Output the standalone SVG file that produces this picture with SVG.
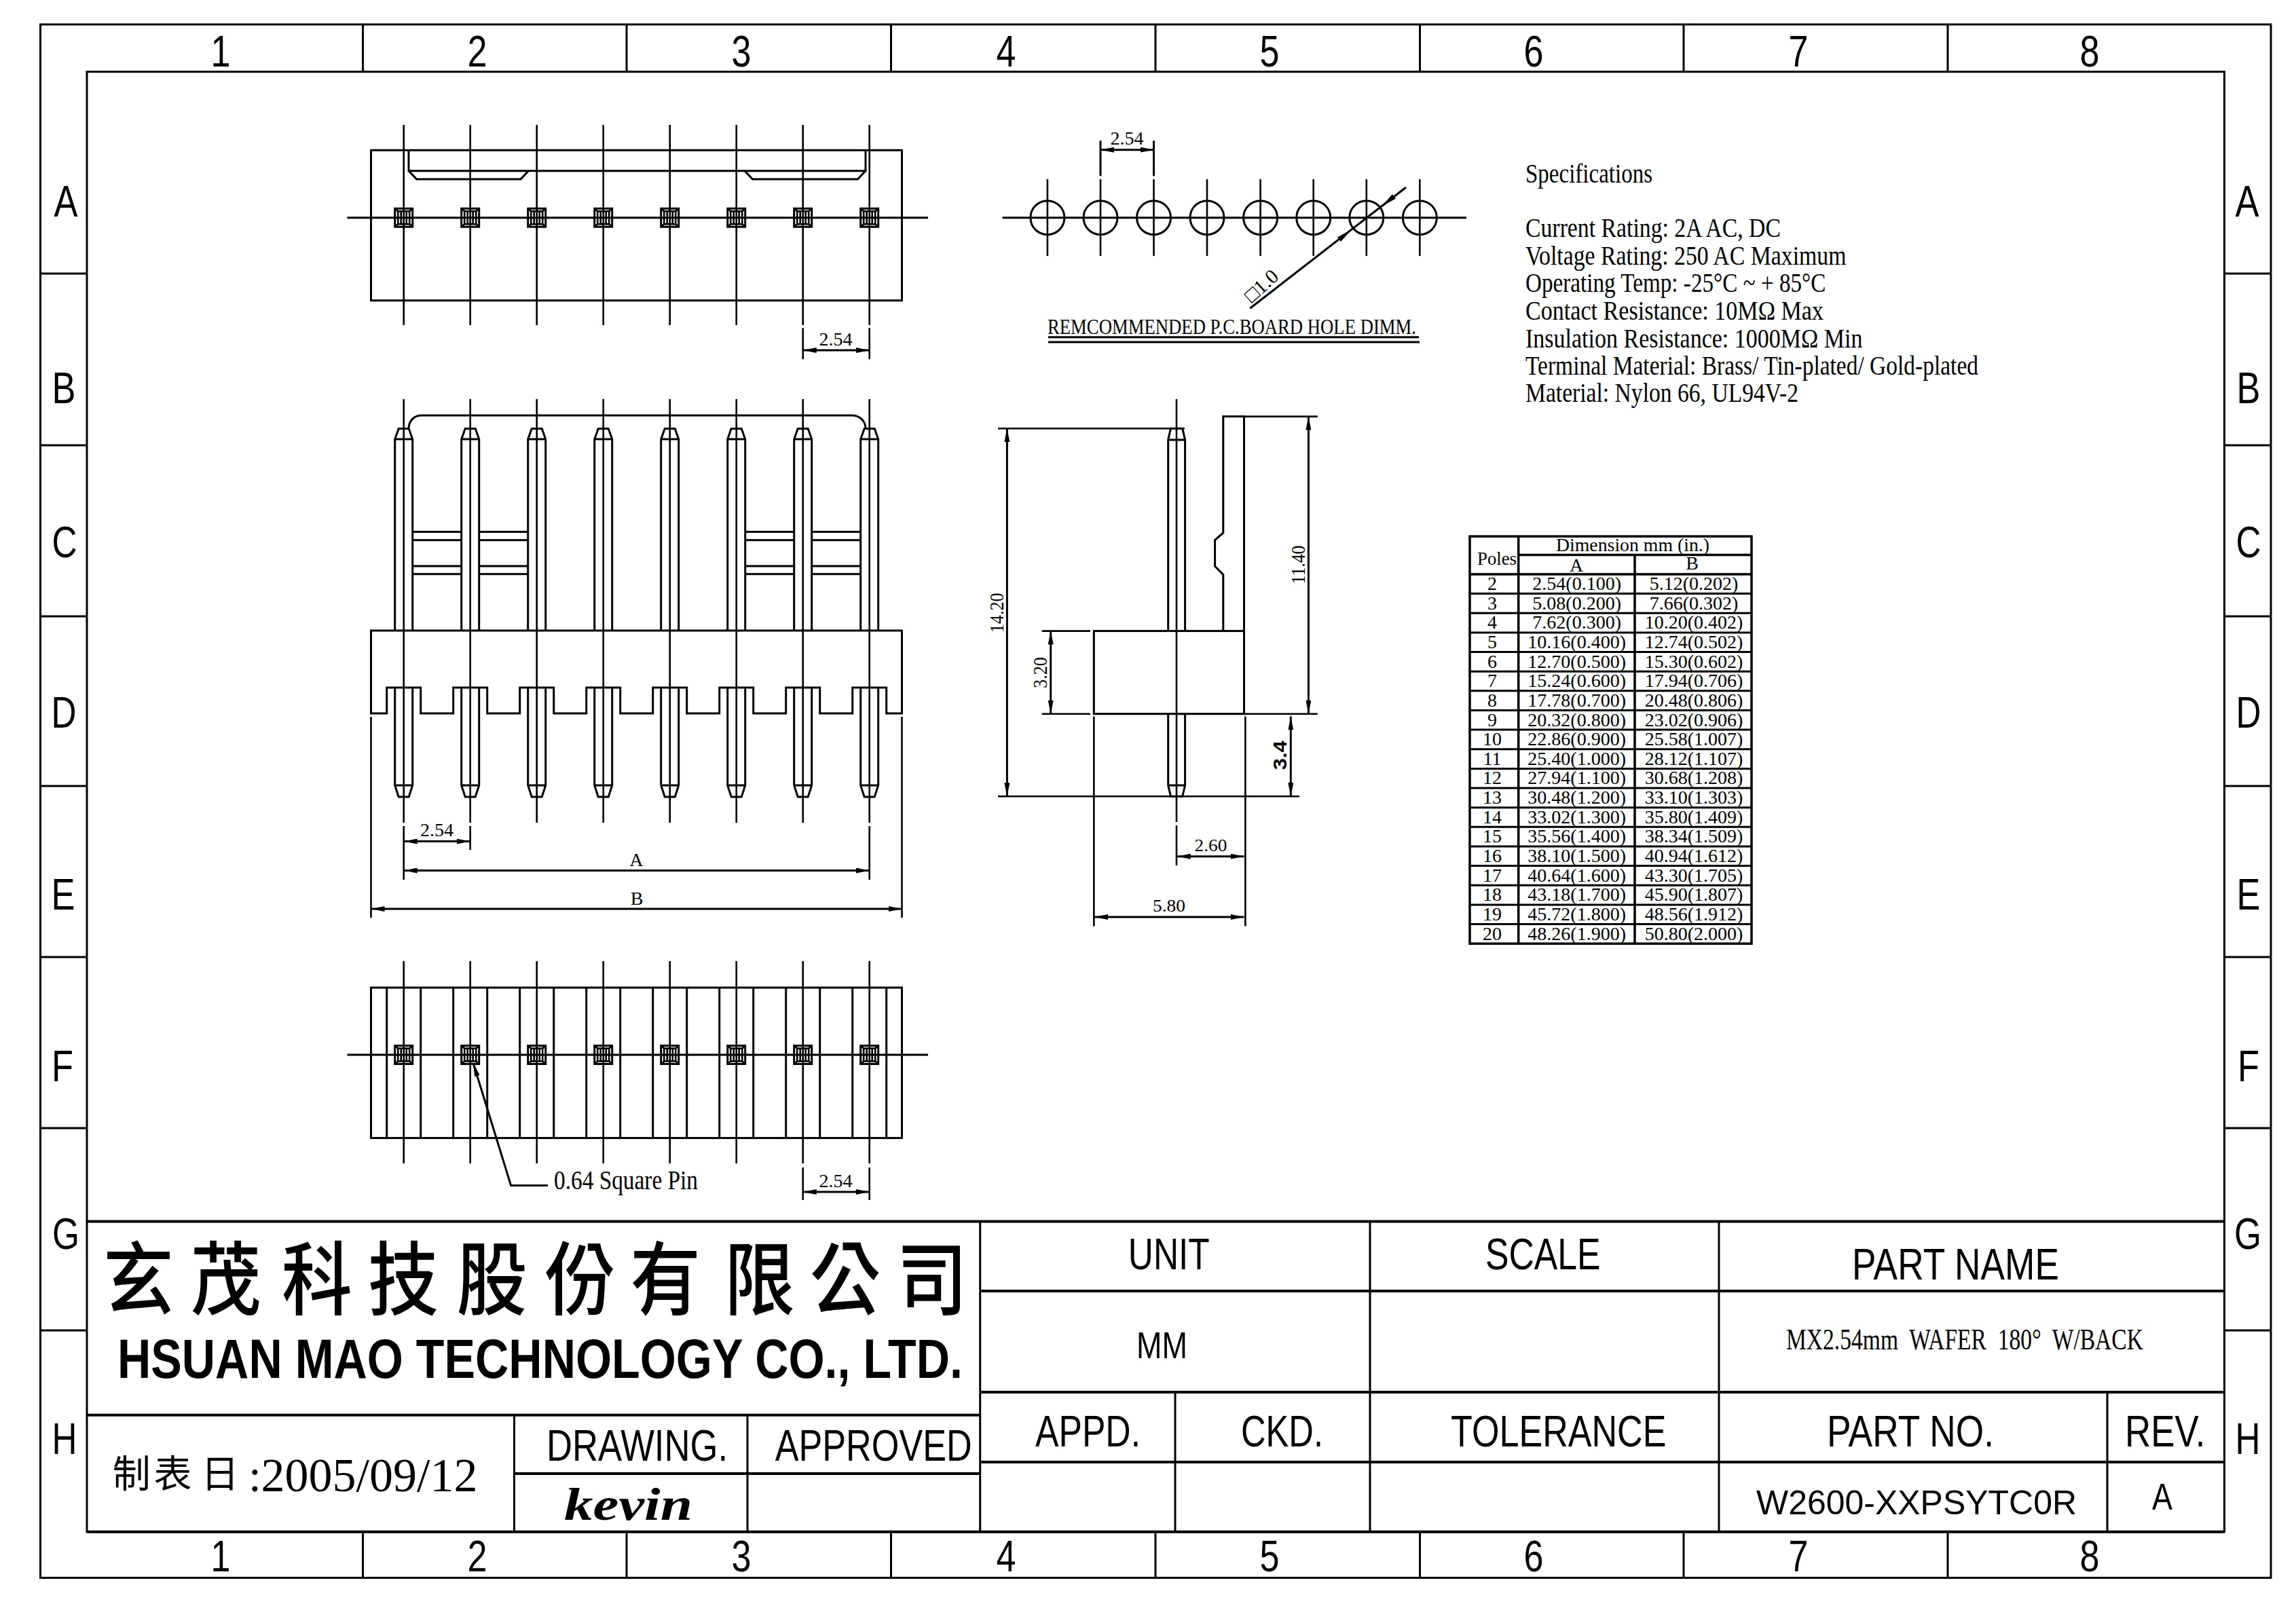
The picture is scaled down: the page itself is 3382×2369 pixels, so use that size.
<svg xmlns="http://www.w3.org/2000/svg" width="3382" height="2369" viewBox="0 0 3382 2369">
<style>
.l{fill:none;stroke:#000;stroke-width:3}
.c{fill:none;stroke:#000;stroke-width:2.6}
.h{fill:none;stroke:#000;stroke-width:4}
.tl{fill:none;stroke:#000;stroke-width:3.5}
.d{fill:none;stroke:#000;stroke-width:3;marker-start:url(#ah);marker-end:url(#ah)}
.s{font-family:"Liberation Serif","Noto Sans CJK TC",serif;fill:#000}
.a{font-family:"Liberation Sans",sans-serif;fill:#000}
.k{font-family:"Noto Sans CJK TC","Liberation Sans",sans-serif;fill:#000}
.m{text-anchor:middle}
.r{font-size:65px}
.t{font-size:65px}
.dim{font-size:28px}
.sp{font-size:39px}
.tb{font-size:28px;text-anchor:middle}
</style>
<defs>
<marker id="ah" viewBox="0 0 20 8" refX="20" refY="4" markerWidth="20" markerHeight="8" markerUnits="userSpaceOnUse" orient="auto-start-reverse"><path d="M0,0L20,4L0,8Z" fill="#000"/></marker>
<g id="sq"><rect class="l" x="-13" y="-13.500" width="26" height="27"/><rect class="c" x="-8.500" y="-9.500" width="17" height="19"/><path class="c" d="M-13,-13.500L-8.500,-9.500M13,-13.500L8.500,-9.500M-13,13.500L-8.500,9.500M13,13.500L8.500,9.500M-4,-9.500V9.500M4,-9.500V9.500"/></g>
<g id="pin"><path class="l" d="M-13,929V647L-7.500,631.400H7.500L13,647V929M-13,647H13M-13,1013V1157L-7.500,1174H7.500L13,1157V1013M-13,1157H13"/><path class="c" d="M0,588V1212"/></g>
<g id="hole"><circle class="l" r="25"/><path class="c" d="M0,-56.700V56.300"/></g>
</defs>
<rect width="3382" height="2369" fill="#fff"/>

<g id="frame">
<rect class="l" x="59.500" y="36" width="3285.500" height="2288.500"/>
<rect class="l" x="128" y="105.700" width="3148.500" height="2151"/>
<path class="l" d="M534.500,36V105.700M923,36V105.700M1312.500,36V105.700M1702,36V105.700M2091.500,36V105.700M2480,36V105.700M2869,36V105.700"/>
<path class="l" d="M534.500,2256.700V2324.500M923,2256.700V2324.500M1312.500,2256.700V2324.500M1702,2256.700V2324.500M2091.500,2256.700V2324.500M2480,2256.700V2324.500M2869,2256.700V2324.500"/>
<path class="l" d="M59.500,403H128M59.500,656H128M59.500,908H128M59.500,1158H128M59.500,1410H128M59.500,1662H128M59.500,1960H128"/>
<path class="l" d="M3276.500,403H3345M3276.500,656H3345M3276.500,908H3345M3276.500,1158H3345M3276.500,1410H3345M3276.500,1662H3345M3276.500,1960H3345"/>
<g class="a r m">
<text x="325" y="97.700" textLength="29" lengthAdjust="spacingAndGlyphs">1</text><text x="703" y="97.700" textLength="29" lengthAdjust="spacingAndGlyphs">2</text><text x="1092" y="97.700" textLength="29" lengthAdjust="spacingAndGlyphs">3</text><text x="1482" y="97.700" textLength="29" lengthAdjust="spacingAndGlyphs">4</text><text x="1870" y="97.700" textLength="29" lengthAdjust="spacingAndGlyphs">5</text><text x="2259" y="97.700" textLength="29" lengthAdjust="spacingAndGlyphs">6</text><text x="2649" y="97.700" textLength="29" lengthAdjust="spacingAndGlyphs">7</text><text x="3078" y="97.700" textLength="29" lengthAdjust="spacingAndGlyphs">8</text>
<text x="325" y="2314.500" textLength="29" lengthAdjust="spacingAndGlyphs">1</text><text x="703" y="2314.500" textLength="29" lengthAdjust="spacingAndGlyphs">2</text><text x="1092" y="2314.500" textLength="29" lengthAdjust="spacingAndGlyphs">3</text><text x="1482" y="2314.500" textLength="29" lengthAdjust="spacingAndGlyphs">4</text><text x="1870" y="2314.500" textLength="29" lengthAdjust="spacingAndGlyphs">5</text><text x="2259" y="2314.500" textLength="29" lengthAdjust="spacingAndGlyphs">6</text><text x="2649" y="2314.500" textLength="29" lengthAdjust="spacingAndGlyphs">7</text><text x="3078" y="2314.500" textLength="29" lengthAdjust="spacingAndGlyphs">8</text>
<text x="97" y="319" textLength="35" lengthAdjust="spacingAndGlyphs">A</text><text x="94" y="593.500" textLength="35" lengthAdjust="spacingAndGlyphs">B</text><text x="95" y="821" textLength="37" lengthAdjust="spacingAndGlyphs">C</text><text x="94" y="1072" textLength="37" lengthAdjust="spacingAndGlyphs">D</text><text x="93" y="1340" textLength="35" lengthAdjust="spacingAndGlyphs">E</text><text x="92" y="1592.500" textLength="32" lengthAdjust="spacingAndGlyphs">F</text><text x="97" y="1840" textLength="40" lengthAdjust="spacingAndGlyphs">G</text><text x="95" y="2141.500" textLength="37" lengthAdjust="spacingAndGlyphs">H</text>
<text x="3310" y="319" textLength="35" lengthAdjust="spacingAndGlyphs">A</text><text x="3312" y="593.500" textLength="35" lengthAdjust="spacingAndGlyphs">B</text><text x="3312" y="821" textLength="37" lengthAdjust="spacingAndGlyphs">C</text><text x="3312" y="1072" textLength="37" lengthAdjust="spacingAndGlyphs">D</text><text x="3312" y="1340" textLength="35" lengthAdjust="spacingAndGlyphs">E</text><text x="3312" y="1592.500" textLength="32" lengthAdjust="spacingAndGlyphs">F</text><text x="3311" y="1840" textLength="40" lengthAdjust="spacingAndGlyphs">G</text><text x="3311" y="2141.500" textLength="37" lengthAdjust="spacingAndGlyphs">H</text>
</g>
</g>

<g id="top-view">
<rect class="l" x="546.500" y="221.300" width="782" height="221.400"/>
<path class="l" d="M602,221.300V251.700H1275V221.300M602,251.700L613.700,264H767L778.400,251.700M1097,251.700L1108.500,264H1263.500L1275,251.700"/>
<path class="l" d="M511.500,320.700H1367"/>
<path class="c" d="M594.700,184V479M692.700,184V479M790.700,184V479M888.700,184V479M986.700,184V479M1084.700,184V479M1182.700,184V479M1280.700,184V479"/>
<use href="#sq" x="594.700" y="320.700"/><use href="#sq" x="692.700" y="320.700"/><use href="#sq" x="790.700" y="320.700"/><use href="#sq" x="888.700" y="320.700"/><use href="#sq" x="986.700" y="320.700"/><use href="#sq" x="1084.700" y="320.700"/><use href="#sq" x="1182.700" y="320.700"/><use href="#sq" x="1280.700" y="320.700"/>
<path class="c" d="M1182.700,483.300V529.300M1280.700,483.300V529.300"/>
<path class="d" d="M1182.700,516H1280.700"/>
<text class="s dim m" x="1231" y="509">2.54</text>
</g>

<g id="front-view">
<use href="#pin" x="594.700"/><use href="#pin" x="692.700"/><use href="#pin" x="790.700"/><use href="#pin" x="888.700"/><use href="#pin" x="986.700"/><use href="#pin" x="1084.700"/><use href="#pin" x="1182.700"/><use href="#pin" x="1280.700"/>
<path class="l" d="M602,631.400C602,620 610,612 621,612H1255C1266,612 1275,620 1275,631.400"/>
<path class="l" d="M607.700,783.500H679.700M607.700,795.700H679.700M705.700,783.500H777.700M705.700,795.700H777.700M607.700,834H679.700M607.700,845.700H679.700M705.700,834H777.700M705.700,845.700H777.700M1097.700,783.500H1169.700M1097.700,795.700H1169.700M1195.700,783.500H1267.700M1195.700,795.700H1267.700M1097.700,834H1169.700M1097.700,845.700H1169.700M1195.700,834H1267.700M1195.700,845.700H1267.700"/>
<path class="l" d="M546.500,1051V929H1328.500V1051H1305.700V1013H1255.700V1051H1207.700V1013H1157.700V1051H1109.700V1013H1059.700V1051H1011.700V1013H961.700V1051H913.700V1013H863.700V1051H815.700V1013H765.700V1051H717.700V1013H667.700V1051H619.700V1013H569.700V1051Z"/>
<path class="c" d="M546.500,1056V1352M1328.500,1056V1352M594.700,1217V1296M692.700,1217V1252M1280.700,1217V1296"/>
<path class="d" d="M594.700,1239.600H692.700"/>
<path class="d" d="M594.700,1282.500H1280.700"/>
<path class="d" d="M546.500,1339H1328.500"/>
<text class="s dim m" x="643.500" y="1232">2.54</text>
<text class="s dim m" x="937.400" y="1275.500">A</text>
<text class="s dim m" x="938" y="1332.500">B</text>
</g>

<g id="bottom-view">
<rect class="l" x="546.500" y="1455" width="782" height="221.600"/>
<path class="l" d="M569.700,1455V1676.600M619.700,1455V1676.600M667.700,1455V1676.600M717.700,1455V1676.600M765.700,1455V1676.600M815.700,1455V1676.600M863.700,1455V1676.600M913.700,1455V1676.600M961.700,1455V1676.600M1011.700,1455V1676.600M1059.700,1455V1676.600M1109.700,1455V1676.600M1157.700,1455V1676.600M1207.700,1455V1676.600M1255.700,1455V1676.600M1305.700,1455V1676.600"/>
<path class="l" d="M511.500,1554H1367"/>
<path class="c" d="M594.700,1416V1714M692.700,1416V1714M790.700,1416V1714M888.700,1416V1714M986.700,1416V1714M1084.700,1416V1714M1182.700,1416V1714M1280.700,1416V1714"/>
<use href="#sq" x="594.700" y="1554"/><use href="#sq" x="692.700" y="1554"/><use href="#sq" x="790.700" y="1554"/><use href="#sq" x="888.700" y="1554"/><use href="#sq" x="986.700" y="1554"/><use href="#sq" x="1084.700" y="1554"/><use href="#sq" x="1182.700" y="1554"/><use href="#sq" x="1280.700" y="1554"/>
<path class="l" d="M807,1746.500H752.600L697,1566" marker-end="url(#ah)"/>
<text class="s" x="816" y="1751.500" font-size="39" textLength="212" lengthAdjust="spacingAndGlyphs">0.64 Square Pin</text>
<path class="c" d="M1182.700,1720V1768M1280.700,1720V1768"/>
<path class="d" d="M1182.700,1756H1280.700"/>
<text class="s dim m" x="1231" y="1749">2.54</text>
</g>

<g id="pcb-holes">
<path class="l" d="M1476.500,320.700H2160"/>
<use href="#hole" x="1542.900" y="320.700"/><use href="#hole" x="1621" y="320.700"/><use href="#hole" x="1699.500" y="320.700"/><use href="#hole" x="1778" y="320.700"/><use href="#hole" x="1856.600" y="320.700"/><use href="#hole" x="1934.700" y="320.700"/><use href="#hole" x="2012.800" y="320.700"/><use href="#hole" x="2091.300" y="320.700"/>
<path class="l" d="M1621,207.300V259.300M1699.500,207.300V259.300"/>
<path class="d" d="M1621,220.700H1699.500"/>
<text class="s dim m" x="1660" y="213">2.54</text>
<path class="l" d="M1841.300,454.300L2071,276"/>
<path d="M1990.800,338.300L1970,349.500L1975,356Z" fill="#000"/>
<path d="M2035,304L2055.800,292.800L2050.800,286.300Z" fill="#000"/>
<text class="s" font-size="30" transform="translate(1844,447) rotate(-42)">□1.0</text>
<text class="s" x="1543" y="492" font-size="32" textLength="543" lengthAdjust="spacingAndGlyphs">REMCOMMENDED P.C.BOARD HOLE DIMM.</text>
<path class="l" d="M1544,496.700H2090M1544,504H2091"/>
</g>

<g id="side-view">
<path class="l" d="M1720.700,929.600V648L1724.500,631.200H1741.700L1745.600,648V929.600M1720.700,648H1745.600M1720.700,1051.700V1157L1724.500,1173.300H1741.700L1745.600,1157V1051.700M1720.700,1157H1745.600"/>
<path class="c" d="M1733,588V1211M1733,1216V1275"/>
<path class="l" d="M1801.800,929.600V846.600L1789.600,834.200V795.700L1801.800,785V613.600H1832.500V1051.700"/>
<rect class="l" x="1611.300" y="929.600" width="221.200" height="122.100"/>
<path class="c" d="M1534.700,929.600H1606M1534.700,1051.700H1606M1832.500,1051.700H1940.800M1832.500,613.600H1940.800M1470,631.200H1745M1470,1173.300H1914M1611.300,1055.400V1364.500M1834.400,1055.400V1364.500"/>
<path class="d" d="M1483.400,631.200V1173.300"/>
<path class="d" d="M1547.700,929.600V1051.700"/>
<path class="d" d="M1927.400,613.600V1051.700"/>
<path class="d" d="M1901.300,1055.400V1173.300"/>
<path class="d" d="M1733.700,1261.700H1832.500"/>
<path class="d" d="M1612,1351H1832.500"/>
<text class="s m" font-size="30" transform="translate(1477.700,902.800) rotate(-90)" textLength="59" lengthAdjust="spacingAndGlyphs">14.20</text>
<text class="s m" font-size="30" transform="translate(1541.600,991) rotate(-90)" textLength="46" lengthAdjust="spacingAndGlyphs">3.20</text>
<text class="s m" font-size="30" transform="translate(1921.600,832) rotate(-90)" textLength="57" lengthAdjust="spacingAndGlyphs">11.40</text>
<text class="a m" font-size="28" font-weight="700" transform="translate(1894.800,1112.800) rotate(-90)" textLength="43" lengthAdjust="spacingAndGlyphs">3.4</text>
<text class="s m" font-size="26" x="1783.500" y="1253.500" textLength="48" lengthAdjust="spacingAndGlyphs">2.60</text>
<text class="s m" font-size="26" x="1722" y="1343" textLength="48" lengthAdjust="spacingAndGlyphs">5.80</text>
</g>

<g id="specifications" class="s sp">
<text x="2247" y="269.300" textLength="187" lengthAdjust="spacingAndGlyphs">Specifications</text>
<text x="2247" y="349.300" textLength="376" lengthAdjust="spacingAndGlyphs">Current Rating: 2A AC, DC</text>
<text x="2247" y="390" textLength="472.500" lengthAdjust="spacingAndGlyphs">Voltage Rating: 250 AC Maximum</text>
<text x="2247" y="430" textLength="442.500" lengthAdjust="spacingAndGlyphs">Operating Temp: -25°C ~ + 85°C</text>
<text x="2247" y="470.700" textLength="439" lengthAdjust="spacingAndGlyphs">Contact Resistance: 10MΩ Max</text>
<text x="2247" y="511.700" textLength="496.500" lengthAdjust="spacingAndGlyphs">Insulation Resistance: 1000MΩ Min</text>
<text x="2247" y="551.700" textLength="667" lengthAdjust="spacingAndGlyphs">Terminal Material: Brass/ Tin-plated/ Gold-plated</text>
<text x="2247" y="591.700" textLength="402" lengthAdjust="spacingAndGlyphs">Material: Nylon 66, UL94V-2</text>
</g>

<g id="dimension-table">
<rect class="tl" x="2165" y="790.200" width="415" height="600"/>
<path class="tl" d="M2236.700,790.200V1390.200M2408,817.500V1390.200M2236.700,817.500H2580M2165,846H2580"/>
<path class="l" d="M2165,874.600H2580M2165,903.300H2580M2165,931.900H2580M2165,960.600H2580M2165,989.200H2580M2165,1017.800H2580M2165,1046.500H2580M2165,1075.100H2580M2165,1103.800H2580M2165,1132.400H2580M2165,1161H2580M2165,1189.700H2580M2165,1218.300H2580M2165,1247H2580M2165,1275.600H2580M2165,1304.200H2580M2165,1332.900H2580M2165,1361.500H2580"/>
<g class="s tb">
<text x="2405" y="812" textLength="226" lengthAdjust="spacingAndGlyphs">Dimension mm (in.)</text>
<text x="2205" y="832" textLength="58" lengthAdjust="spacingAndGlyphs">Poles</text>
<text x="2322" y="841.500">A</text><text x="2492.700" y="838.500">B</text>
<text x="2198" y="869">2</text><text x="2322.700" y="869">2.54(0.100)</text><text x="2495" y="869">5.12(0.202)</text>
<text x="2198" y="897.700">3</text><text x="2322.700" y="897.700">5.08(0.200)</text><text x="2495" y="897.700">7.66(0.302)</text>
<text x="2198" y="926.300">4</text><text x="2322.700" y="926.300">7.62(0.300)</text><text x="2495" y="926.300">10.20(0.402)</text>
<text x="2198" y="955">5</text><text x="2322.700" y="955">10.16(0.400)</text><text x="2495" y="955">12.74(0.502)</text>
<text x="2198" y="983.600">6</text><text x="2322.700" y="983.600">12.70(0.500)</text><text x="2495" y="983.600">15.30(0.602)</text>
<text x="2198" y="1012.200">7</text><text x="2322.700" y="1012.200">15.24(0.600)</text><text x="2495" y="1012.200">17.94(0.706)</text>
<text x="2198" y="1040.900">8</text><text x="2322.700" y="1040.900">17.78(0.700)</text><text x="2495" y="1040.900">20.48(0.806)</text>
<text x="2198" y="1069.500">9</text><text x="2322.700" y="1069.500">20.32(0.800)</text><text x="2495" y="1069.500">23.02(0.906)</text>
<text x="2198" y="1098.200">10</text><text x="2322.700" y="1098.200">22.86(0.900)</text><text x="2495" y="1098.200">25.58(1.007)</text>
<text x="2198" y="1126.800">11</text><text x="2322.700" y="1126.800">25.40(1.000)</text><text x="2495" y="1126.800">28.12(1.107)</text>
<text x="2198" y="1155.400">12</text><text x="2322.700" y="1155.400">27.94(1.100)</text><text x="2495" y="1155.400">30.68(1.208)</text>
<text x="2198" y="1184.100">13</text><text x="2322.700" y="1184.100">30.48(1.200)</text><text x="2495" y="1184.100">33.10(1.303)</text>
<text x="2198" y="1212.700">14</text><text x="2322.700" y="1212.700">33.02(1.300)</text><text x="2495" y="1212.700">35.80(1.409)</text>
<text x="2198" y="1241.400">15</text><text x="2322.700" y="1241.400">35.56(1.400)</text><text x="2495" y="1241.400">38.34(1.509)</text>
<text x="2198" y="1270">16</text><text x="2322.700" y="1270">38.10(1.500)</text><text x="2495" y="1270">40.94(1.612)</text>
<text x="2198" y="1298.600">17</text><text x="2322.700" y="1298.600">40.64(1.600)</text><text x="2495" y="1298.600">43.30(1.705)</text>
<text x="2198" y="1327.300">18</text><text x="2322.700" y="1327.300">43.18(1.700)</text><text x="2495" y="1327.300">45.90(1.807)</text>
<text x="2198" y="1355.900">19</text><text x="2322.700" y="1355.900">45.72(1.800)</text><text x="2495" y="1355.900">48.56(1.912)</text>
<text x="2198" y="1384.600">20</text><text x="2322.700" y="1384.600">48.26(1.900)</text><text x="2495" y="1384.600">50.80(2.000)</text>
</g>
</g>

<g id="title-block">
<path class="h" d="M128,1799.500H3276.500M1443.700,1902H3276.500M128,2084.700H1443.700M1443.700,2051H3276.500M1443.700,2154H3276.500M757.500,2171H1443.700M128,2256.700H3276.500"/>
<path class="l" d="M1443.700,1799.500V2256.700M2018,1799.500V2256.700M2532,1799.500V2256.700M1731,2051V2256.700M3104,2051V2256.700M757.500,2084.700V2256.700M1101,2084.700V2256.700"/>
<text class="k" font-size="118" font-weight="500" text-anchor="middle" transform="translate(0,1928) scale(.88,1)" x="231.800 377.800 530.700 675 823.300 971.100 1113.600 1271.600 1414.800 1560.200">玄茂科技股份有限公司</text>
<text class="a" x="173" y="2030" font-size="82" font-weight="700" textLength="1245" lengthAdjust="spacingAndGlyphs">HSUAN MAO TECHNOLOGY CO., LTD.</text>
<text class="k" font-size="56" text-anchor="middle" x="193.700 254.400 324" y="2191">制表日</text>
<text class="s" x="366" y="2197" font-size="68">:</text>
<text class="s" x="384.500" y="2197" font-size="70" textLength="319" lengthAdjust="spacingAndGlyphs">2005/09/12</text>
<g class="a t">
<text x="805" y="2152" textLength="267" lengthAdjust="spacingAndGlyphs">DRAWING.</text>
<text x="1141.700" y="2152" textLength="290" lengthAdjust="spacingAndGlyphs">APPROVED</text>
<text x="1661.800" y="1869.500" textLength="120" lengthAdjust="spacingAndGlyphs">UNIT</text>
<text x="2188" y="1869.500" textLength="169.600" lengthAdjust="spacingAndGlyphs">SCALE</text>
<text x="2728" y="1884.500" textLength="305" lengthAdjust="spacingAndGlyphs">PART NAME</text>
<text x="1525" y="2131" textLength="155" lengthAdjust="spacingAndGlyphs">APPD.</text>
<text x="1828" y="2131" textLength="121" lengthAdjust="spacingAndGlyphs">CKD.</text>
<text x="2137" y="2131" textLength="317.500" lengthAdjust="spacingAndGlyphs">TOLERANCE</text>
<text x="2691" y="2131" textLength="246" lengthAdjust="spacingAndGlyphs">PART NO.</text>
<text x="3130" y="2131" textLength="118.500" lengthAdjust="spacingAndGlyphs">REV.</text>
</g>
<text class="s" x="831" y="2238.500" font-size="68" font-weight="700" font-style="italic" textLength="189" lengthAdjust="spacingAndGlyphs">kevin</text>
<text class="a" x="1674" y="2001" font-size="55" textLength="75" lengthAdjust="spacingAndGlyphs">MM</text>
<text class="s" x="2631" y="1987.500" font-size="44" textLength="526" lengthAdjust="spacingAndGlyphs" style="white-space:pre">MX2.54mm  WAFER  180°  W/BACK</text>
<text class="a" x="2587" y="2231" font-size="50" textLength="472" lengthAdjust="spacingAndGlyphs">W2600-XXPSYTC0R</text>
<text class="a" x="3170" y="2224" font-size="56" textLength="30" lengthAdjust="spacingAndGlyphs">A</text>
</g>
</svg>
